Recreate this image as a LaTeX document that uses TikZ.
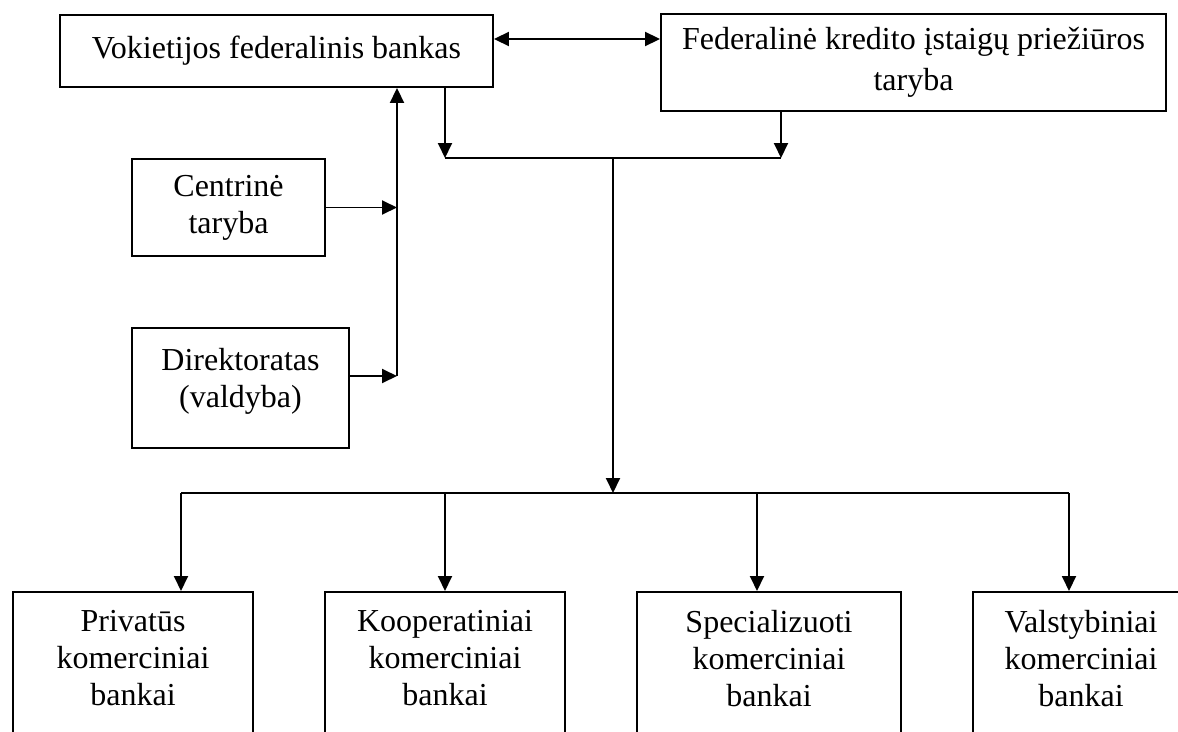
\documentclass[tikz,border=0pt]{standalone}
\usepackage{fontspec}
\setmainfont{Liberation Serif}
\usetikzlibrary{arrows.meta}
\begin{document}
\begin{tikzpicture}[x=1pt, y=-1pt, line width=1.9pt,
		>={Triangle[length=15pt,width=14pt]},
		box/.style={draw, align=center, inner sep=0pt, font=\fontsize{32}{37}\selectfont},
		bank/.style={box, anchor=north, inner ysep=18pt, text depth=150pt, minimum width=#1}]
			\useasboundingbox (0,0) rectangle (1178,731);
			\clip (0,0) rectangle (1178,731);
			\node[box, minimum width=433pt, minimum height=72pt] (vok) at (276.5,51) {Vokietijos federalinis bankas};
			\node[box, minimum width=505pt, minimum height=97pt] (fed) at (913.5,62.5) {Federalinė kredito įstaigų priežiūros\\[4pt]taryba};
			\node[box, minimum width=193pt, minimum height=97pt] (cen) at (228.5,207.5) {Centrinė\\taryba};
			\node[box, anchor=north, minimum width=217pt, inner ysep=20pt, text depth=21pt] (dir) at (240.5,327) {Direktoratas\\(valdyba)};
			\node[bank=240pt] (pri) at (133,591) {Privatūs\\komerciniai\\bankai};
			\node[bank=240pt] (koo) at (445,591) {Kooperatiniai\\komerciniai\\bankai};
			\node[bank=264pt] (spe) at (769,591) {Specializuoti\\komerciniai\\bankai};
			\node[bank=216pt] (val) at (1081,591) {Valstybiniai\\komerciniai\\bankai};
			% top links
			\draw[<->] ([yshift=12pt]vok.east) -- ([yshift=12pt]vok.east -| fed.west);
			\coordinate (jl) at (445,158);
			\coordinate (jr) at (781,158);
			\coordinate (jm) at (613,158);
			\coordinate (hub) at (613,493);
			\draw[->] (vok.south -| jl) -- (jl);
			\draw[->] (fed.south -| jr) -- (jr);
			\draw (jl) -- (jr);
			\draw[->] (jm) -- (hub);
			% left side
			\coordinate (lj) at (397,376);
			\draw[->] (lj) -- (lj |- vok.south);
			\draw[->] (cen.east) -- (cen.east -| lj);
			\draw[->] (lj -| dir.east) -- (lj);
			% banks
			\foreach \n/\x in {pri/181, koo/445, spe/757, val/1069} {
				\coordinate (b\n) at (\x,493);
				\draw[->] (b\n) -- (b\n |- \n.north);
			}
			\draw (bpri) -- (bval);
		\end{tikzpicture}
\end{document}
